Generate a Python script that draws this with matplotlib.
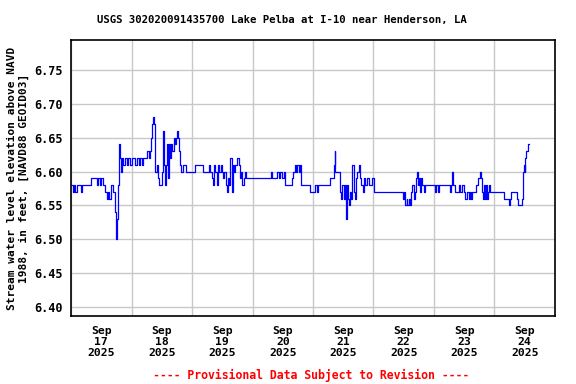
import pandas as pd
import matplotlib
matplotlib.use('Agg')
import matplotlib.pyplot as plt
import matplotlib.dates as mdates

# change points of the gage record: hours after 2025-09-17 00:00, elevation (ft)
hours = [
    0, 0.7, 1.2, 1.7, 2.3, 3.8, 4.2, 7.8, 10.2, 10.7, 11.3, 12.0, 12.8, 13.4,
    14.2, 14.8, 15.2, 15.8, 16.8, 17.4, 17.9, 18.3, 18.8, 19.2, 19.6, 20.0,
    20.4, 20.8, 21.5, 22.1, 22.8, 23.4, 24.1, 25.4, 26.1, 26.8, 27.4, 28.1,
    28.7, 30.3, 31.0, 31.4, 31.8, 32.2, 32.6, 33.0, 33.2, 33.5, 34.0, 34.6,
    35.1, 36.0, 36.4, 36.7, 37.1, 37.6, 38.0, 38.4, 38.9, 39.3, 39.7, 40.1,
    40.7, 41.1, 41.6, 42.0, 42.5, 43.0, 43.3, 43.8, 44.4, 45.7, 49.3, 52.3,
    54.6, 55.2, 55.9, 56.3, 56.7, 57.2, 57.9, 58.3, 58.8, 59.5, 59.9, 60.3,
    60.8, 61.3, 61.9, 62.4, 62.7, 62.9, 63.5, 63.8, 64.2, 64.8, 65.2, 65.8,
    66.5, 67.2, 67.5, 68.0, 68.5, 68.9, 69.4, 79.3, 79.8, 81.7, 82.4, 82.8,
    83.7, 84.4, 84.7, 85.0, 87.7, 88.2, 88.7, 89.2, 89.7, 90.4, 91.0, 91.4,
    95.0, 96.9, 97.4, 97.9, 102.9, 104.2, 104.6, 104.9, 106.9, 107.3, 107.7,
    108.2, 108.6, 109.0, 109.4, 109.8, 110.2, 110.6, 110.9, 111.3, 112.4,
    112.8, 113.2, 113.5, 114.2, 114.8, 115.2, 115.7, 116.1, 116.8, 117.4,
    118.1, 119.5, 120.1, 131.7, 132.0, 132.4, 133.1, 133.3, 134.0, 134.4,
    134.9, 135.4, 136.0, 136.4, 137.0, 137.3, 137.7, 138.1, 138.5, 138.9,
    139.4, 139.9, 140.6, 144.3, 144.8, 145.5, 145.9, 150.3, 150.7, 151.1,
    151.5, 152.5, 153.9, 154.5, 155.2, 155.8, 156.5, 157.2, 157.8, 158.2,
    158.5, 158.9, 160.5, 161.4, 162.1, 162.5, 162.9, 163.3, 163.8, 164.2,
    164.6, 165.1, 165.5, 166.0, 166.4, 171.7, 173.7, 174.1, 174.4, 176.8,
    177.3, 179.0, 179.3, 179.7, 180.0, 180.2, 180.6, 181.4, 181.8,
]
elev = [
    6.58, 6.57, 6.58, 6.57, 6.58, 6.57, 6.58, 6.59, 6.58, 6.59, 6.58, 6.59, 6.58, 6.57,
    6.56, 6.57, 6.56, 6.58, 6.57, 6.54, 6.50, 6.53, 6.58, 6.64, 6.62, 6.60,
    6.62, 6.61, 6.62, 6.61, 6.62, 6.61, 6.62, 6.61, 6.62, 6.61, 6.62, 6.61,
    6.62, 6.63, 6.62, 6.63, 6.65, 6.67, 6.68, 6.67, 6.62, 6.60, 6.61, 6.59,
    6.58, 6.60, 6.66, 6.61, 6.58, 6.61, 6.64, 6.59, 6.64, 6.62, 6.64, 6.63,
    6.65, 6.64, 6.65, 6.66, 6.65, 6.63, 6.61, 6.60, 6.61, 6.60, 6.61, 6.60,
    6.61, 6.60, 6.59, 6.58, 6.61, 6.60, 6.58, 6.61, 6.60, 6.61, 6.60, 6.59,
    6.60, 6.58, 6.57, 6.59, 6.58, 6.62, 6.62, 6.57, 6.61, 6.60, 6.61, 6.62,
    6.61, 6.59, 6.60, 6.58, 6.59, 6.60, 6.59, 6.60, 6.59, 6.60, 6.59, 6.60,
    6.59, 6.60, 6.59, 6.58, 6.59, 6.60, 6.61, 6.60, 6.61, 6.60, 6.61, 6.58,
    6.57, 6.58, 6.57, 6.58, 6.59, 6.61, 6.63, 6.60, 6.57, 6.56, 6.58,
    6.56, 6.58, 6.53, 6.58, 6.56, 6.55, 6.57, 6.56, 6.61, 6.57,
    6.56, 6.59, 6.60, 6.61, 6.59, 6.58, 6.57, 6.59, 6.58, 6.59,
    6.58, 6.59, 6.57, 6.56, 6.57, 6.55, 6.56, 6.55, 6.56, 6.55,
    6.57, 6.58, 6.56, 6.57, 6.59, 6.60, 6.58, 6.59, 6.57, 6.59,
    6.58, 6.57, 6.58, 6.57, 6.58, 6.57, 6.58, 6.57, 6.58, 6.60,
    6.58, 6.57, 6.58, 6.57, 6.58, 6.57, 6.56, 6.57, 6.56, 6.57,
    6.56, 6.57, 6.58, 6.59, 6.60, 6.59, 6.57, 6.56, 6.58, 6.56,
    6.58, 6.56, 6.57, 6.58, 6.57, 6.56, 6.55, 6.56, 6.57, 6.56,
    6.55, 6.56, 6.60, 6.61, 6.60, 6.62, 6.63, 6.64, 6.64,
]

title = 'USGS 302020091435700 Lake Pelba at I-10 near Henderson, LA'
ylabel = 'Stream water level elevation above NAVD\n1988, in feet, [NAVD88 GEOID03]'
footer = '---- Provisional Data Subject to Revision ----'
yticks = [6.40, 6.45, 6.50, 6.55, 6.60, 6.65, 6.70, 6.75]

start = pd.Timestamp('2025-09-17')
times = start + pd.to_timedelta(hours, unit='h')

plt.rcParams['font.family'] = 'DejaVu Sans Mono'
plt.rcParams['font.weight'] = 'bold'

fig = plt.figure(figsize=(5.76, 3.84), dpi=100)
ax = fig.add_axes([0.1233, 0.1771, 0.8402, 0.7187])

ax.plot(times, elev, color='#0000ff', lw=0.9, drawstyle='steps-post')

ax.set_xlim(start, start + pd.Timedelta(days=8))
ax.set_ylim(6.387, 6.794)
ax.set_yticks(yticks)
ax.set_yticklabels([f'{v:.2f}' for v in yticks], fontsize=8.5, fontweight='bold')

# gridlines at midnight, labels at noon
ax.xaxis.set_major_locator(mdates.DayLocator())
ax.xaxis.set_major_formatter(plt.NullFormatter())
ax.xaxis.set_minor_locator(mdates.HourLocator(byhour=[12]))
ax.xaxis.set_minor_formatter(mdates.DateFormatter('%b\n%d\n%Y'))
for lbl in ax.xaxis.get_minorticklabels():
    lbl.set_fontsize(8.2)
    lbl.set_fontweight('bold')
    lbl.set_linespacing(1.12)

ax.tick_params(axis='both', which='both', length=0)
ax.tick_params(axis='x', which='minor', pad=7)
ax.tick_params(axis='y', pad=6)
ax.grid(True, which='major', color='#c8c8c8', lw=1.0)
ax.set_axisbelow(True)
for sp in ax.spines.values():
    sp.set_linewidth(1.2)
    sp.set_color('black')

fig.text(0.49, 0.948, title, ha='center', va='center', fontsize=7.7, fontweight='bold')
fig.text(0.031, 0.535, ylabel, ha='center', va='center', rotation=90,
         fontsize=8, fontweight='bold', multialignment='center', linespacing=1.15)
fig.text(0.54, 0.023, footer, ha='center', va='center', fontsize=8.3,
         fontweight='bold', color='#ff0000')

fig.savefig('out.png', dpi=100)
